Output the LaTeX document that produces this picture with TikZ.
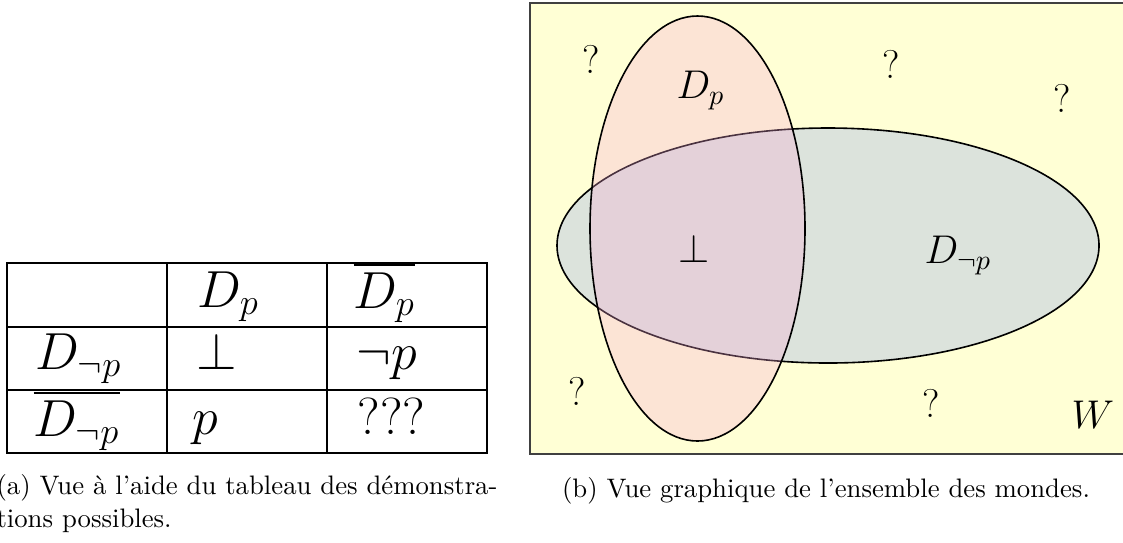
\RequirePackage{fix-cm}
\documentclass[tikz,border=0pt]{standalone}
\usepackage{amsmath,amssymb}
\definecolor{worldfill}{RGB}{255,255,213}
\definecolor{notpfill}{RGB}{220,227,220}
\definecolor{pfill}{RGB}{248,168,213}

\begin{document}
\begin{tikzpicture}[x=0.374pt,y=-0.374pt,
  cell/.style={anchor=base west,inner sep=0pt,font=\fontsize{19.5}{23}\selectfont},
  venn/.style={anchor=base,inner sep=0pt,font=\fontsize{15}{18}\selectfont}]
\useasboundingbox (0,0) rectangle (1123,542);
% (a) tableau
\draw[line width=0.8pt] (7,263) rectangle (487,453);
\foreach \y in {327,390} \draw[line width=0.8pt] (7,\y)--(487,\y);
\foreach \x in {167,327} \draw[line width=0.8pt] (\x,263)--(\x,453);
\node[cell] (dp) at (197,307) {$D_p$};
\node[cell] (ndp) at (353,308) {$\overline{D_p}$};
\node[cell] (dnp) at (35,369) {$D_{\neg p}$};
\node[cell] (bot) at (196,369) {$\bot$};
\node[cell] (np) at (356,369) {$\neg p$};
\node[cell] (ndnp) at (33,436) {$\overline{D_{\neg p}}$};
\node[cell] (p) at (192,434) {$p$};
\node[cell] (unk) at (357,434) {???};
\node[anchor=base west,inner sep=0pt,align=left] (capa) at (-4,527)
  {(a) Vue à l'aide du tableau des démonstra-\\tions possibles.};
% (b) ensemble des mondes
\draw[line width=0.8pt,draw=black!75,fill=worldfill] (530,3) rectangle (1126,454);
\draw[line width=0.6pt,fill=notpfill] (828,245.5) ellipse [x radius=271,y radius=117.5];
\draw[line width=0.6pt,fill=pfill,fill opacity=0.3] (697.5,228.5) ellipse [x radius=107.5,y radius=212.5];
\node[venn,anchor=base west] (vdp) at (676,98) {$D_p$};
\node[venn,anchor=base west] (vbot) at (678,262) {$\bot$};
\node[venn,anchor=base west] (vdnp) at (924,263) {$D_{\neg p}$};
\node[venn,anchor=base west] (w) at (1071,428) {$W$};
\node[venn] (q1) at (591,73) {?};
\node[venn] (q2) at (891,78) {?};
\node[venn] (q3) at (1062,112) {?};
\node[venn] (q4) at (577,405) {?};
\node[venn] (q5) at (931,417) {?};
\node[anchor=base,inner sep=0pt] (capb) at (826,497) {(b) Vue graphique de l'ensemble des mondes.};
\end{tikzpicture}
\end{document}
